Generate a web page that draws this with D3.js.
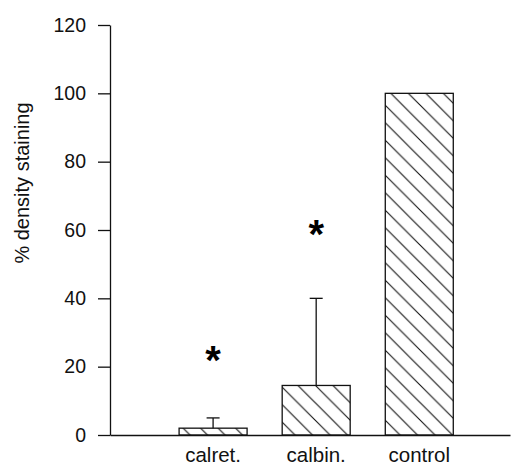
<!DOCTYPE html>
<html>
<head>
<meta charset="utf-8">
<script src="https://cdn.jsdelivr.net/npm/d3@7"></script>
<style>
  body { margin: 0; background: #fff; }
  text { font-family: "Liberation Sans", Arial, sans-serif; }
</style>
</head>
<body>
<div id="chart"></div>
<script>
// data
const categories = ["calret.", "calbin.", "control"];
const values = [2, 14.5, 100];
const errors = [3, 25.5, 0];      // upper error bar (one-sided)
const starAt = [24, 61, null];    // height of the significance asterisk
const yTicks = [0, 20, 40, 60, 80, 100, 120];

const W = 511, H = 468;
const barW = 68;

const svg = d3.select('#chart').append('svg')
    .attr('width', W)
    .attr('height', H);

// scales
const x = d3.scaleLinear().domain([0, 3.88]).range([110, 510]);
const y = d3.scaleLinear().domain([0, 120]).range([435, 25]);

// hatch pattern, lines running top-left to bottom-right
const s = 17.5;
svg.append('defs').append('pattern')
    .attr('id', 'hatch')
    .attr('patternUnits', 'userSpaceOnUse')
    .attr('width', s)
    .attr('height', s)
    .append('path')
    .attr('d', `M0,0 L${s},${s} M${-s / 2},${s / 2} L${s / 2},${s * 1.5} M${s / 2},${-s / 2} L${s * 1.5},${s / 2}`)
    .attr('stroke', '#111')
    .attr('stroke-width', 1.1);

// bars
svg.selectAll('rect.bar')
    .data(values)
    .join('rect')
    .attr('class', 'bar')
    .attr('x', (d, i) => x(i + 1) - barW / 2)
    .attr('y', d => y(d))
    .attr('width', barW)
    .attr('height', d => y(0) - y(d))
    .attr('fill', 'url(#hatch)')
    .attr('stroke', '#111')
    .attr('stroke-width', 1.3);

// error bars (upper only)
const eb = svg.selectAll('g.err')
    .data(values.map((v, i) => ({ v, e: errors[i], i })).filter(d => d.e > 0))
    .join('g')
    .attr('class', 'err')
    .attr('stroke', '#111')
    .attr('stroke-width', 1.3);

eb.append('line')
    .attr('x1', d => x(d.i + 1))
    .attr('x2', d => x(d.i + 1))
    .attr('y1', d => y(d.v))
    .attr('y2', d => y(d.v + d.e));

eb.append('line')
    .attr('x1', d => x(d.i + 1) - 6.5)
    .attr('x2', d => x(d.i + 1) + 6.5)
    .attr('y1', d => y(d.v + d.e))
    .attr('y2', d => y(d.v + d.e));

// significance asterisks
svg.selectAll('text.star')
    .data(starAt.map((v, i) => ({ v, i })).filter(d => d.v != null))
    .join('text')
    .attr('class', 'star')
    .attr('x', d => x(d.i + 1))
    .attr('y', d => y(d.v) + 21)
    .attr('text-anchor', 'middle')
    .attr('font-size', '40px')
    .attr('font-weight', 'bold')
    .text('*');

// y axis
const yAxis = svg.append('g')
    .attr('transform', `translate(${x(0)},0)`)
    .call(d3.axisLeft(y)
        .tickValues(yTicks)
        .tickSize(12)
        .tickPadding(12)
        .tickSizeOuter(0));
yAxis.selectAll('text')
    .attr('font-size', '19.5px')
    .attr('fill', '#111')
    .attr('font-family', '"Liberation Sans", Arial, sans-serif');
yAxis.selectAll('line, path').attr('stroke', '#111').attr('stroke-width', 1.3);

// x axis (no ticks, labels placed under bars)
const xAxis = svg.append('g')
    .attr('transform', `translate(0,${y(0)})`)
    .call(d3.axisBottom(x).tickValues([]).tickSizeOuter(0));
xAxis.select('path').attr('stroke', '#111').attr('stroke-width', 1.3);

svg.selectAll('text.cat')
    .data(categories)
    .join('text')
    .attr('class', 'cat')
    .attr('x', (d, i) => x(i + 1))
    .attr('y', 462)
    .attr('text-anchor', 'middle')
    .attr('font-size', '20.5px')
    .attr('fill', '#111')
    .text(d => d);

// y label
svg.append('text')
    .attr('transform', 'rotate(-90)')
    .attr('x', -183)
    .attr('y', 29)
    .attr('text-anchor', 'middle')
    .attr('font-size', '20px')
    .attr('fill', '#111')
    .text('% density staining');
</script>
</body>
</html>
